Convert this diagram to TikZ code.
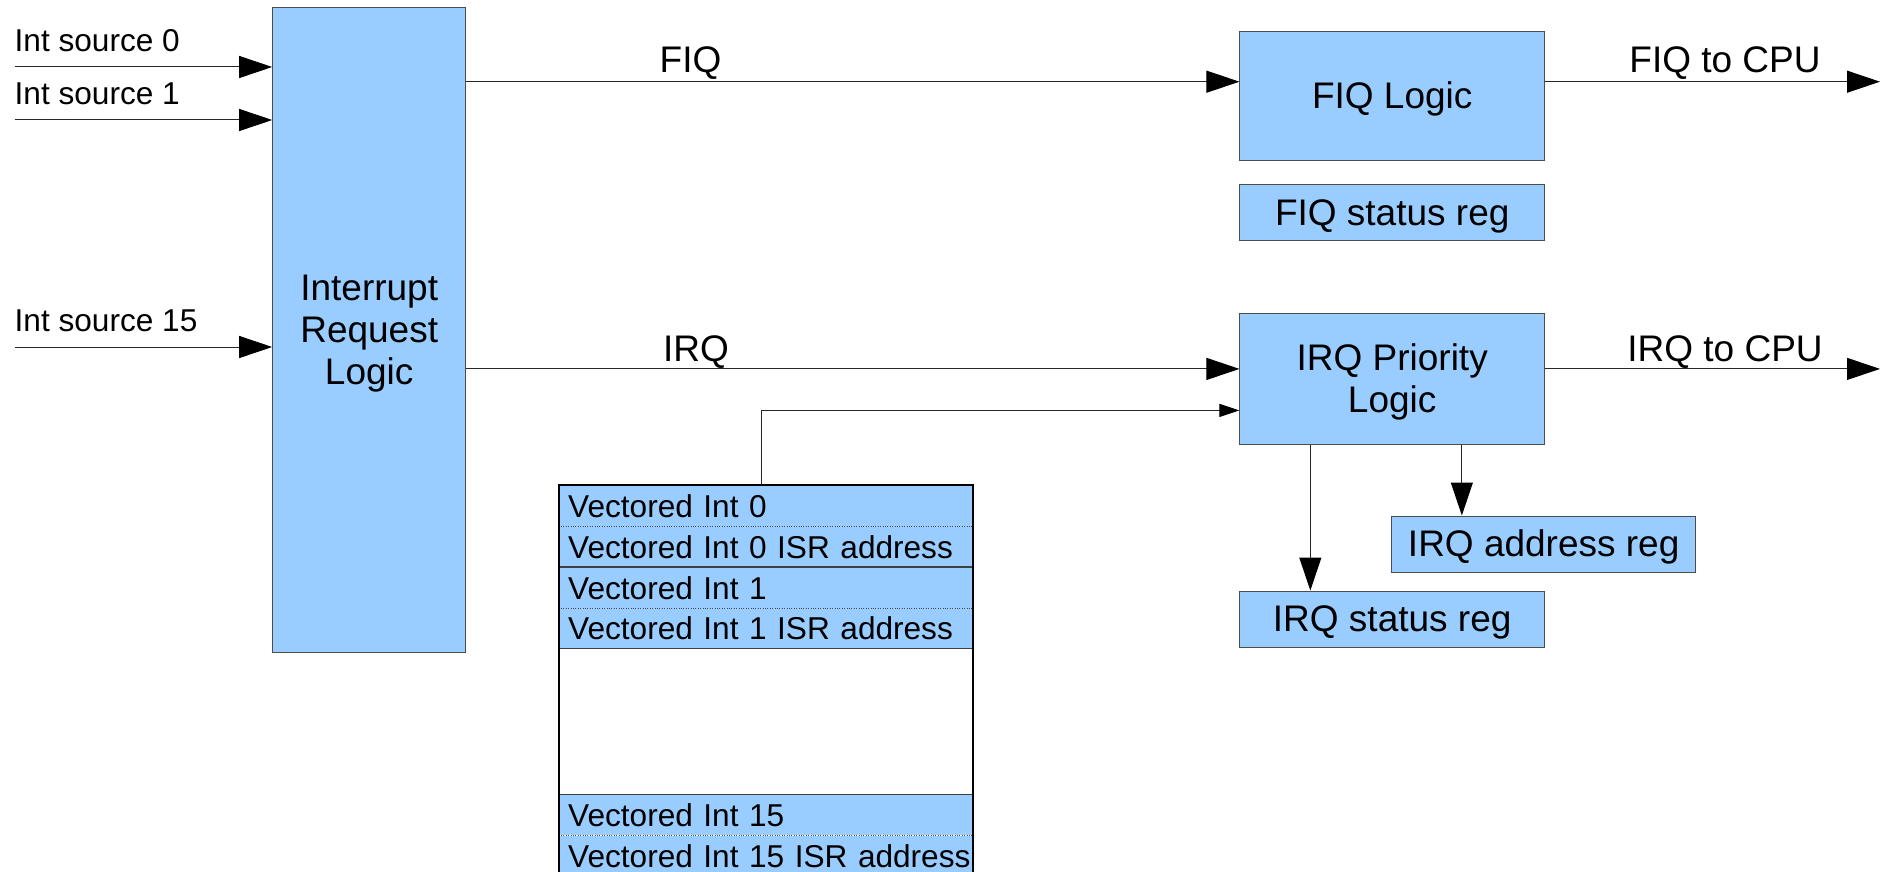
\documentclass[tikz,border=0pt]{standalone}
\usepackage{fontspec}
\setmainfont{Liberation Sans}
\usetikzlibrary{arrows.meta,positioning,calc}
\definecolor{boxblue}{HTML}{99CCFF}
\newcommand\bigtxt{\fontsize{37}{42}\selectfont}
\newcommand\smalltxt{\fontsize{31.6}{40}\selectfont}
\newcommand\ascent{\rule{0pt}{0.905em}}

\begin{document}
\begin{tikzpicture}[x=1pt,y=-1pt,
block/.style={draw=black!70,line width=1pt,fill=boxblue,font=\bigtxt,align=center,inner sep=0pt,minimum width=304.5pt},
reg/.style={block,minimum height=56pt},
slot/.style={fill=boxblue,font=\smalltxt,inner xsep=9.5pt,inner ysep=0pt,text width=395pt,align=left,text height=32pt,text depth=8.5pt},
flow/.style={-{Triangle[length=33pt,width=22pt,color=black]},line width=1pt,draw=black!85},
vflow/.style={-{Triangle[length=20pt,width=13pt,color=black]},line width=1pt,draw=black!85},
lbl/.style={font=\bigtxt,anchor=base,inner sep=0pt},
src/.style={font=\smalltxt,anchor=base west,inner sep=0pt}]
\useasboundingbox (0,0) rectangle (1892,872);
% main blocks
\node[block,minimum width=193pt,minimum height=645.6pt] (irl) at (369.2,330) {\ascent Interrupt\\Request\\Logic};
\node[block,minimum height=129pt] (fiq) at (1392.2,96) {\ascent FIQ Logic};
\node[reg,below=23pt of fiq] (fiqreg) {\ascent FIQ status reg};
\node[block,minimum height=130.3pt] (irq) at (1392.2,378.9) {\ascent IRQ Priority\\Logic};
\node[reg] (irqaddr) at (1543.7,544) {\ascent IRQ address reg};
\node[reg] (irqstat) at (1392.2,619) {\ascent IRQ status reg};
% vector table
\node[slot,anchor=north west] (v0) at (558.5,485) {Vectored Int 0};
\node[slot,below=0pt of v0] (v0a) {Vectored Int 0 ISR address};
\node[slot,below=0pt of v0a] (v1) {Vectored Int 1};
\node[slot,below=0pt of v1] (v1a) {Vectored Int 1 ISR address};
\node[slot,below=146pt of v1a] (v15) {Vectored Int 15};
\node[slot,below=0pt of v15] (v15a) {\mbox{Vectored Int 15 ISR address}};
\foreach \r in {v0,v1,v15}
  \draw[dotted,black!70] (\r.south west) -- (\r.south east);
\foreach \r in {v0a,v1a}
  \draw[line width=1.5pt,black!75] (\r.south west) -- (\r.south east);
\draw[line width=1.5pt,black!75] (v15.north west) -- (v15.north east);
\draw[line width=2pt] (v0.north west) rectangle (v15a.south east);
% inputs
\coordinate (s0) at (14.5,67);
\coordinate (s1) at (14.5,120);
\coordinate (s15) at (14.5,347);
\node[src] (s0lbl) at (14.5,51.7) {Int source 0};
\node[src] (s1lbl) at (14.5,105) {Int source 1};
\node[src] (s15lbl) at (14.5,331) {Int source 15};
\draw[flow] (s0) -- (irl.west |- s0);
\draw[flow] (s1) -- (irl.west |- s1);
\draw[flow] (s15) -- (irl.west |- s15);
% FIQ / IRQ paths
\coordinate (fiqin) at ($(fiq.north west)!0.39!(fiq.south west)$);
\coordinate (irqin) at ($(irq.north west)!0.424!(irq.south west)$);
\coordinate (vecin) at ($(irq.north west)!0.74!(irq.south west)$);
\coordinate (fiqcpu) at (fiqin -| 1880,0);
\coordinate (irqcpu) at (irqin -| 1880,0);
\draw[flow] (irl.east |- fiqin) -- (fiqin);
\draw[flow] (irl.east |- irqin) -- (irqin);
\draw[flow] (fiq.east |- fiqin) -- (fiqcpu);
\draw[flow] (irq.east |- irqin) -- (irqcpu);
\node[lbl] (fiqlbl) at (690.5,73) {FIQ};
\node[lbl] (irqlbl) at (696,361) {IRQ};
\node[lbl] (fiqcpulbl) at (1725,73) {FIQ to CPU};
\node[lbl] (irqcpulbl) at (1725,361) {IRQ to CPU};
\coordinate (vecout) at ($(v0.north west)!0.49!(v0.north east)$);
\draw[vflow] (vecout) |- (vecin);
% registers
\coordinate (qs) at ($(irq.south west)!0.232!(irq.south east)$);
\coordinate (qa) at ($(irq.south west)!0.728!(irq.south east)$);
\draw[flow] (qs) -- (qs |- irqstat.north);
\draw[flow] (qa) -- (qa |- irqaddr.north);
\end{tikzpicture}
\end{document}
